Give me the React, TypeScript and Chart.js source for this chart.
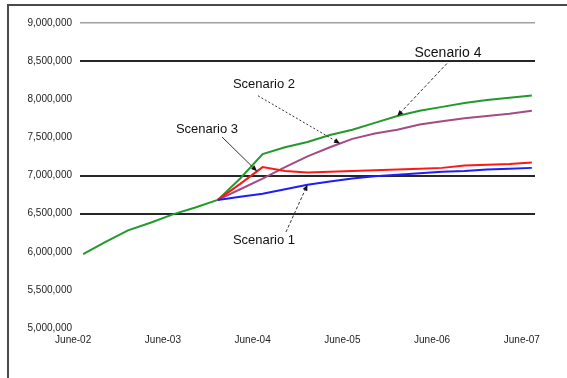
import { useEffect, useRef } from "react";
import { Chart, registerables } from "chart.js";

Chart.register(...registerables);

// Quarterly observations, June 2002 to June 2007
const quarters = [
  "Jun-02", "Sep-02", "Dec-02", "Mar-03", "Jun-03", "Sep-03", "Dec-03",
  "Mar-04", "Jun-04", "Sep-04", "Dec-04", "Mar-05", "Jun-05", "Sep-05",
  "Dec-05", "Mar-06", "Jun-06", "Sep-06", "Dec-06", "Mar-07", "Jun-07",
];
const yearLabels = ["June-02", "June-03", "June-04", "June-05", "June-06", "June-07"];

// Actuals up to Dec-03, where the four scenarios branch off
const history = [5970000, 6130000, 6280000, 6380000, 6490000, 6580000, 6680000];
const scenarioStart = 6; // index of Dec-03 in quarters
const scenario1 = [6680000, 6720000, 6760000, 6820000, 6880000, 6920000, 6960000, 6990000, 7010000, 7030000, 7050000, 7060000, 7080000, 7090000, 7100000];
const scenario2 = [6680000, 6820000, 6960000, 7110000, 7250000, 7370000, 7480000, 7550000, 7600000, 7670000, 7710000, 7750000, 7780000, 7810000, 7850000];
const scenario3 = [6680000, 6890000, 7110000, 7060000, 7040000, 7050000, 7060000, 7070000, 7080000, 7090000, 7100000, 7130000, 7140000, 7150000, 7170000];
const scenario4 = [6680000, 6960000, 7280000, 7370000, 7440000, 7530000, 7600000, 7690000, 7780000, 7850000, 7900000, 7950000, 7990000, 8020000, 8050000];

const yMin = 5000000;
const yMax = 9000000;
const yStep = 500000;
const darkGridValues = [8500000, 7000000, 6500000];
const lightGridValues = [9000000];

const GREEN = "#23992b";
const PURPLE = "#a24b86";
const RED = "#ff1717";
const BLUE = "#1d1dff";
const FONT = '"Liberation Sans", Arial, sans-serif';

type Callout = {
  text: string;
  series: number[];
  at: number; // quarter index (may be fractional) the arrow points to
  labelAt: [number, number]; // quarter index, value
  tail: [number, number];
  dash: number[];
  size: number;
};

const callouts: Callout[] = [
  { text: "Scenario 4", series: scenario4, at: 14, labelAt: [16.26, 8600000], tail: [-1, 10], dash: [3, 2], size: 14 },
  { text: "Scenario 2", series: scenario2, at: 11.45, labelAt: [8.06, 8190000], tail: [-6, 11], dash: [2, 2], size: 13 },
  { text: "Scenario 3", series: scenario3, at: 7.75, labelAt: [5.52, 7610000], tail: [15, 8], dash: [], size: 13 },
  { text: "Scenario 1", series: scenario1, at: 10, labelAt: [8.06, 6154000], tail: [22, -8], dash: [3, 2], size: 13 },
];

const toPoints = (values: number[], offset: number) =>
  values.map((v, i) => ({ x: i + offset, y: v }));

const seriesValueAt = (series: number[], q: number) => {
  const local = q - scenarioStart;
  const i = Math.max(0, Math.min(series.length - 2, Math.floor(local)));
  const f = local - i;
  return series[i] + (series[i + 1] - series[i]) * f;
};

const framePlugin = {
  id: "frame",
  beforeDraw(chart: Chart) {
    const { ctx, width, height } = chart;
    ctx.save();
    ctx.fillStyle = "#ffffff";
    ctx.fillRect(0, 0, width, height);
    ctx.fillStyle = "#4a4a4a";
    ctx.fillRect(7, 4, width - 7, 2);
    ctx.fillRect(7, 4, 2, height - 4);
    ctx.restore();
  },
};

const calloutPlugin = {
  id: "callouts",
  afterDatasetsDraw(chart: Chart) {
    const { ctx } = chart;
    const xs = chart.scales.x;
    const ys = chart.scales.y;
    ctx.save();
    for (const c of callouts) {
      const lx = xs.getPixelForValue(c.labelAt[0]);
      const ly = ys.getPixelForValue(c.labelAt[1]);
      const tx = xs.getPixelForValue(c.at);
      const ty = ys.getPixelForValue(seriesValueAt(c.series, c.at));
      const sx = lx + c.tail[0];
      const sy = ly + c.tail[1];

      ctx.font = `${c.size}px ${FONT}`;
      ctx.fillStyle = "#111";
      ctx.textAlign = "center";
      ctx.textBaseline = "middle";
      ctx.fillText(c.text, lx, ly);

      const ang = Math.atan2(ty - sy, tx - sx);
      const head = 6;
      const ex = tx - Math.cos(ang) * head;
      const ey = ty - Math.sin(ang) * head;
      ctx.strokeStyle = "#333";
      ctx.lineWidth = 1;
      ctx.setLineDash(c.dash);
      ctx.beginPath();
      ctx.moveTo(sx, sy);
      ctx.lineTo(ex, ey);
      ctx.stroke();
      ctx.setLineDash([]);
      ctx.fillStyle = "#111";
      ctx.beginPath();
      ctx.moveTo(tx, ty);
      ctx.lineTo(ex + Math.cos(ang + Math.PI / 2) * 2.5, ey + Math.sin(ang + Math.PI / 2) * 2.5);
      ctx.lineTo(ex + Math.cos(ang - Math.PI / 2) * 2.5, ey + Math.sin(ang - Math.PI / 2) * 2.5);
      ctx.closePath();
      ctx.fill();
    }
    ctx.restore();
  },
};

export default function App() {
  const canvasRef = useRef<HTMLCanvasElement | null>(null);

  useEffect(() => {
    if (!canvasRef.current) return;
    const line = (label: string, values: number[], offset: number, color: string) => ({
      label,
      data: toPoints(values, offset),
      borderColor: color,
      backgroundColor: color,
      borderWidth: 2,
      pointRadius: 0,
      tension: 0,
      fill: false,
    });

    const chart = new Chart(canvasRef.current, {
      type: "line",
      data: {
        labels: quarters,
        datasets: [
          line("Scenario 1", scenario1, scenarioStart, BLUE),
          line("Scenario 3", scenario3, scenarioStart, RED),
          line("Scenario 2", scenario2, scenarioStart, PURPLE),
          line("Scenario 4", scenario4, scenarioStart, GREEN),
          line("Actual", history, 0, GREEN),
        ],
      },
      options: {
        animation: false,
        responsive: false,
        devicePixelRatio: 1,
        layout: { padding: { top: 23, right: 32, bottom: 0, left: 0 } },
        plugins: {
          legend: { display: false },
          tooltip: { enabled: false },
          title: { display: false },
        },
        scales: {
          x: {
            type: "linear",
            min: -0.14,
            max: quarters.length - 1 + 0.14,
            afterBuildTicks: (scale: any) => {
              scale.ticks = yearLabels.map((_, i) => ({ value: i * 4 }));
            },
            afterFit: (scale: any) => {
              scale.height = 50;
            },
            grid: { display: false, drawTicks: false },
            border: { display: false },
            ticks: {
              autoSkip: false,
              maxRotation: 0,
              padding: 6,
              labelOffset: -10,
              color: "#222",
              font: { family: FONT, size: 10 },
              callback: (v: any) => yearLabels[Math.round(Number(v) / 4)] ?? "",
            },
          },
          y: {
            min: yMin,
            max: yMax,
            afterFit: (scale: any) => {
              scale.width = 80;
            },
            border: { display: false },
            grid: {
              drawTicks: false,
              color: (ctx: any) => {
                const v = ctx.tick?.value;
                if (darkGridValues.includes(v)) return "#262626";
                if (lightGridValues.includes(v)) return "#a0a0a0";
                return "rgba(0,0,0,0)";
              },
              lineWidth: (ctx: any) => (darkGridValues.includes(ctx.tick?.value) ? 2 : 1.5),
            },
            ticks: {
              stepSize: yStep,
              padding: 8,
              color: "#222",
              font: { family: FONT, size: 10 },
              callback: (v: any) => Number(v).toLocaleString("en-US"),
            },
          },
        },
      },
      plugins: [framePlugin, calloutPlugin],
    });
    return () => chart.destroy();
  }, []);

  return (
    <div style={{ position: "fixed", left: 0, top: 0, width: 567, height: 378, background: "#fff" }}>
      <canvas ref={canvasRef} width={567} height={378} style={{ display: "block" }} />
    </div>
  );
}
